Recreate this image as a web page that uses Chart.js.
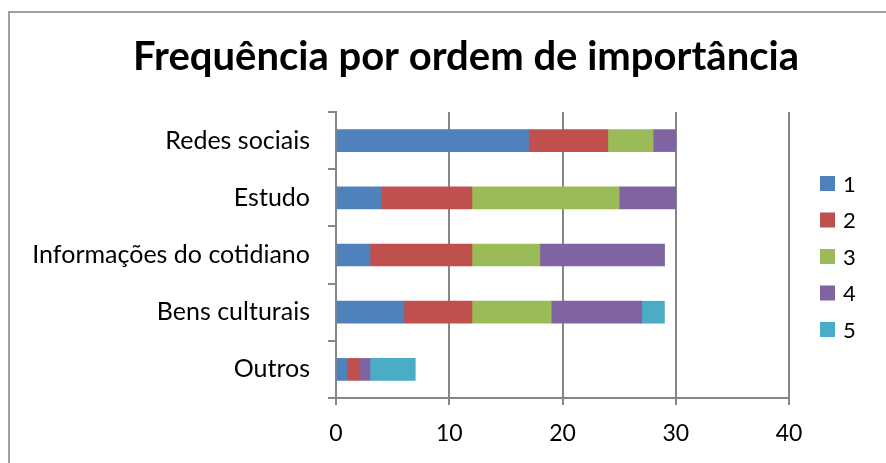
<!DOCTYPE html>
<html><head><meta charset="utf-8">
<script src="https://cdn.jsdelivr.net/npm/chart.js@4"></script>
<style>
html,body{margin:0;padding:0;background:#fff;}
#wrap{position:relative;width:886px;height:463px;overflow:hidden;}
#frame{position:absolute;left:8px;top:11px;width:1000px;height:1000px;border-left:2px solid #a0a0a0;border-top:2px solid #a0a0a0;}
canvas{position:absolute;left:0;top:0;}
</style></head><body>
<div id="wrap"><div id="frame"></div><canvas id="c" width="886" height="463"></canvas></div>
<script>
const titleText = 'Frequência por ordem de importância';
const categories = ['Redes sociais','Estudo','Informações do cotidiano','Bens culturais','Outros'];
const seriesNames = ['1','2','3','4','5'];
const s1 = [17, 4, 3, 6, 1];
const s2 = [7, 8, 9, 6, 1];
const s3 = [4, 13, 6, 7, 0];
const s4 = [2, 5, 11, 8, 1];
const s5 = [0, 0, 0, 2, 4];
const xTickValues = [0, 10, 20, 30, 40];
const colors = ['#4F81BD','#C0504D','#9BBB59','#8064A2','#4BACC6'];
const FONT = 'Lato';

const seriesValues = [s1, s2, s3, s4, s5];
const datasets = seriesNames.map((n, i) => ({
  label: n, data: seriesValues[i], backgroundColor: colors[i], borderWidth: 0, barThickness: 22
}));

const titlePlugin = {
  id: 'customTitle',
  afterDraw(chart) {
    const ctx = chart.ctx;
    ctx.save();
    ctx.font = 'bold 40px ' + FONT;
    ctx.fillStyle = '#000';
    ctx.textAlign = 'center';
    ctx.textBaseline = 'alphabetic';
    ctx.fillText(titleText, 466, 70);
    ctx.restore();
  }
};
const legendPlugin = {
  id: 'customLegend',
  afterDraw(chart) {
    const ctx = chart.ctx;
    ctx.save();
    ctx.font = '22px ' + FONT;
    ctx.textBaseline = 'middle';
    ctx.textAlign = 'left';
    chart.data.datasets.forEach((ds, i) => {
      const y = 176 + i * 36.5;
      ctx.fillStyle = ds.backgroundColor;
      ctx.fillRect(820, y, 15, 15);
      ctx.fillStyle = '#000';
      ctx.fillText(ds.label, 843, y + 8.5);
    });
    ctx.restore();
  }
};

new Chart(document.getElementById('c'), {
  type: 'bar',
  data: { labels: categories, datasets },
  options: {
    indexAxis: 'y',
    responsive: false,
    animation: false,
    layout: { padding: { top: 112, right: 97, left: 0, bottom: 0 } },
    plugins: { legend: { display: false }, title: { display: false }, tooltip: { enabled: false } },
    scales: {
      x: {
        type: 'linear', stacked: true, min: 0, max: 40,
        afterBuildTicks(scale) { scale.ticks = xTickValues.map(v => ({ value: v })); },
        afterFit(scale) { scale.height = 65; },
        ticks: { color: '#000', font: { family: FONT, size: 23 }, padding: 15 },
        grid: { color: '#868686', lineWidth: 2, tickLength: 7 },
        border: { color: '#868686', width: 2 }
      },
      y: {
        type: 'category', stacked: true, offset: true,
        afterFit(scale) { scale.width = 336; },
        ticks: { color: '#000', font: { family: FONT, size: 25 }, padding: 18 },
        grid: { offset: true, drawOnChartArea: false, color: '#868686', lineWidth: 2, tickLength: 8 },
        border: { color: '#868686', width: 2 }
      }
    }
  },
  plugins: [titlePlugin, legendPlugin]
});
</script>
</body></html>
